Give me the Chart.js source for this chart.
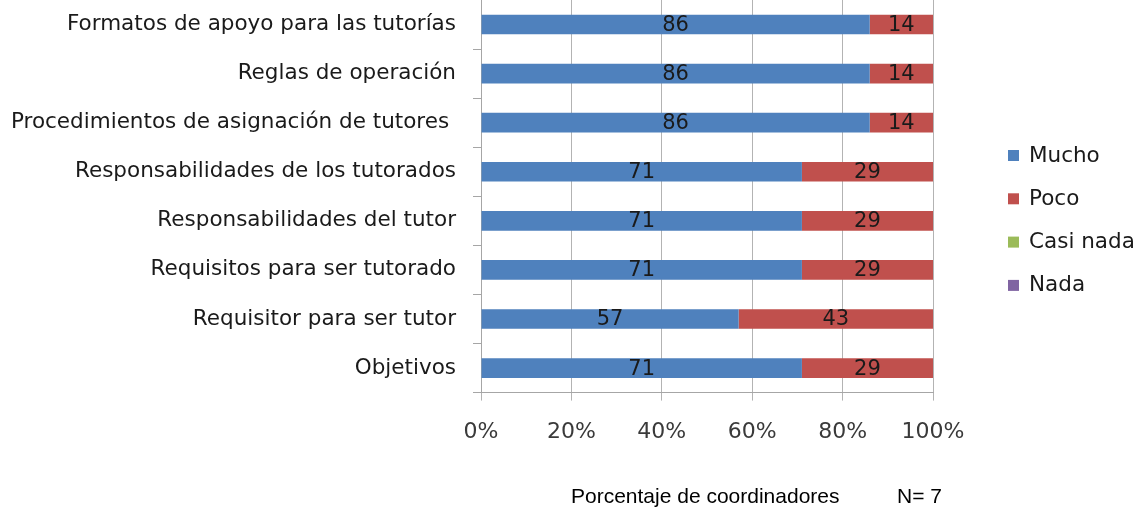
<!DOCTYPE html>
<html>
<head>
<meta charset="utf-8">
<script src="https://cdn.jsdelivr.net/npm/chart.js@4"></script>
<style>
html,body{margin:0;padding:0;background:#fff;}
#wrap{width:1136px;height:510px;position:relative;}
</style>
</head>
<body>
<div id="wrap"><canvas id="c" width="1136" height="510"></canvas></div>
<script>
const categories = [
  "Formatos de apoyo para las tutorías",
  "Reglas de operación",
  "Procedimientos de asignación de tutores ",
  "Responsabilidades de los tutorados",
  "Responsabilidades del tutor",
  "Requisitos para ser tutorado",
  "Requisitor para ser tutor",
  "Objetivos"
];
const seriesNames = ["Mucho", "Poco", "Casi nada", "Nada"];
const mucho = [86, 86, 86, 71, 71, 71, 57, 71];
const poco = [14, 14, 14, 29, 29, 29, 43, 29];
const casiNada = [0, 0, 0, 0, 0, 0, 0, 0];
const nada = [0, 0, 0, 0, 0, 0, 0, 0];
const xTickLabels = ["0%", "20%", "40%", "60%", "80%", "100%"];
const caption = "Porcentaje de coordinadores";
const captionN = "N= 7";
const colors = ["#4F81BD", "#C0504D", "#9BBB59", "#8064A2"];

const labelFont = "'DejaVu Sans'";

const valueLabels = {
  id: "valueLabels",
  afterDatasetsDraw(chart) {
    const ctx = chart.ctx;
    ctx.save();
    ctx.font = "21px " + labelFont;
    ctx.fillStyle = "#1a1a1a";
    ctx.textAlign = "center";
    ctx.textBaseline = "middle";
    chart.data.datasets.forEach((ds, i) => {
      const meta = chart.getDatasetMeta(i);
      meta.data.forEach((bar, j) => {
        const v = ds.data[j];
        if (!v) return;
        const cx = (bar.x + bar.base) / 2;
        ctx.fillText(String(v), cx, bar.y + 1);
      });
    });
    ctx.restore();
  }
};

const customLegend = {
  id: "customLegend",
  afterDraw(chart) {
    const ctx = chart.ctx;
    ctx.save();
    ctx.font = "21.5px " + labelFont;
    ctx.textBaseline = "middle";
    ctx.textAlign = "left";
    const x0 = 1008;
    const y0 = 155;
    const step = 43.3;
    chart.data.datasets.forEach((ds, i) => {
      const y = y0 + i * step;
      ctx.fillStyle = ds.backgroundColor;
      ctx.fillRect(x0, y - 5, 11, 11);
      ctx.fillStyle = "#1a1a1a";
      ctx.fillText(ds.label, x0 + 21, y + 1);
    });
    ctx.restore();
  }
};

const captionPlugin = {
  id: "captionPlugin",
  afterDraw(chart) {
    const ctx = chart.ctx;
    ctx.save();
    ctx.font = "21px 'Liberation Sans'";
    ctx.fillStyle = "#000";
    ctx.textBaseline = "middle";
    ctx.textAlign = "left";
    ctx.fillText(caption, 571, 497);
    ctx.fillText(captionN, 897, 497);
    ctx.restore();
  }
};

const datasets = [mucho, poco, casiNada, nada].map((d, i) => ({
  label: seriesNames[i],
  data: d,
  backgroundColor: colors[i],
  borderWidth: 0,
  barPercentage: 0.4,
  categoryPercentage: 1.0
}));

new Chart(document.getElementById("c"), {
  type: "bar",
  data: { labels: categories, datasets },
  options: {
    indexAxis: "y",
    responsive: false,
    animation: false,
    layout: { padding: { top: -4, right: 203, bottom: 47, left: 0 } },
    plugins: {
      legend: { display: false },
      tooltip: { enabled: false },
      title: { display: false }
    },
    scales: {
      x: {
        stacked: true,
        min: 0,
        max: 100,
        border: { color: "#a6a6a6", width: 1 },
        grid: { color: "#b3b3b3", lineWidth: 1, tickLength: 8, drawTicks: true },
        ticks: {
          stepSize: 20,
          color: "#3a3a3a",
          font: { family: labelFont, size: 22 },
          padding: 18,
          maxRotation: 0,
          callback: (v) => xTickLabels[v / 20]
        }
      },
      y: {
        stacked: true,
        border: { color: "#a6a6a6", width: 1 },
        grid: { offset: true, drawOnChartArea: false, drawTicks: true, tickLength: 8, color: "#a6a6a6" },
        ticks: {
          color: "#1a1a1a",
          font: { family: labelFont, size: 21.5 },
          padding: 17
        },
        afterFit(scale) {
          scale.width = 481;
          scale.paddingTop = 0;
          scale.paddingBottom = 0;
        }
      }
    }
  },
  plugins: [valueLabels, customLegend, captionPlugin]
});
</script>
</body>
</html>
